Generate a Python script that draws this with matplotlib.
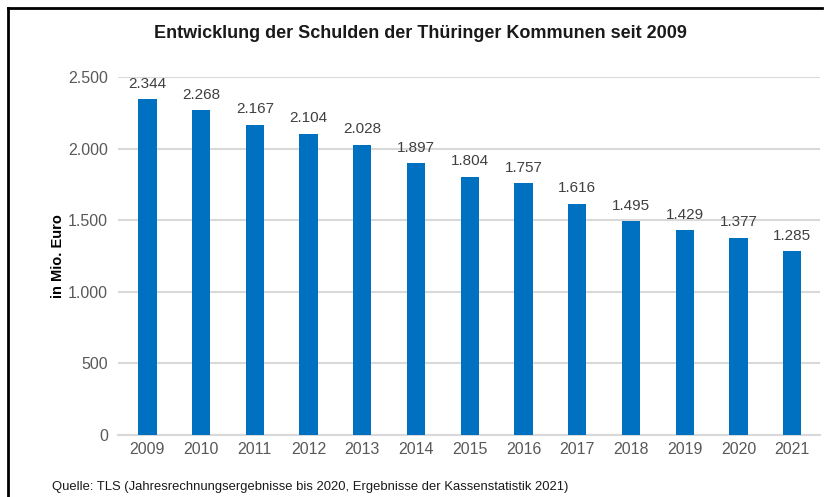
import matplotlib.pyplot as plt
from matplotlib.lines import Line2D

years = ['2009', '2010', '2011', '2012', '2013', '2014', '2015',
         '2016', '2017', '2018', '2019', '2020', '2021']
schulden = [2344, 2268, 2167, 2104, 2028, 1897, 1804, 1757, 1616, 1495, 1429, 1377, 1285]
y_ticks = [0, 500, 1000, 1500, 2000, 2500]


def de_format(v):
	return f'{v:,}'.replace(',', '.')


plt.rcParams['font.family'] = ['Liberation Sans', 'DejaVu Sans']

fig = plt.figure(figsize=(8.3, 4.97), dpi=100)
ax = fig.add_axes([0.142, 0.125, 0.846, 0.72])

x = range(len(years))
bars = ax.bar(x, schulden, width=0.34, color='#0070C0', zorder=3)

for xi, v in zip(x, schulden):
	ax.annotate(de_format(v), (xi, v), xytext=(0, 6), textcoords='offset points',
				ha='center', va='bottom', fontsize=11, color='#404040')

ax.set_xlim(-0.55, len(years) - 0.48)
ax.set_ylim(0, 2500)
ax.set_yticks(y_ticks)
ax.set_yticklabels([de_format(t) for t in y_ticks])
ax.set_xticks(list(x))
ax.set_xticklabels(years)
ax.tick_params(axis='both', length=0, labelsize=11.5, labelcolor='#595959')
ax.tick_params(axis='y', pad=7)
ax.tick_params(axis='x', pad=5)

ax.grid(axis='y', color='#D9D9D9', linewidth=1.5, zorder=0)
for side in ['top', 'right', 'left']:
	ax.spines[side].set_visible(False)
ax.spines['bottom'].set_color('#D9D9D9')
ax.spines['bottom'].set_linewidth(1.5)

ax.set_ylabel('in Mio. Euro', fontsize=10.5, fontweight='bold')
ax.yaxis.set_label_coords(-0.075, 0.5)

fig.text(0.506, 0.933, 'Entwicklung der Schulden der Thüringer Kommunen seit 2009',
		 ha='center', va='center', fontsize=13, fontweight='bold', color='#1a1a1a')
fig.text(0.063, 0.02, 'Quelle: TLS (Jahresrechnungsergebnisse bis 2020, Ergebnisse der Kassenstatistik 2021)',
		 ha='left', va='center', fontsize=9.4, color='#1a1a1a')

# frame lines top and left
fig.add_artist(Line2D([0.01, 0.99], [0.983, 0.983], color='black', linewidth=2, transform=fig.transFigure))
fig.add_artist(Line2D([0.01, 0.01], [0.0, 0.983], color='black', linewidth=2, transform=fig.transFigure))

fig.savefig('out.png', dpi=100)
